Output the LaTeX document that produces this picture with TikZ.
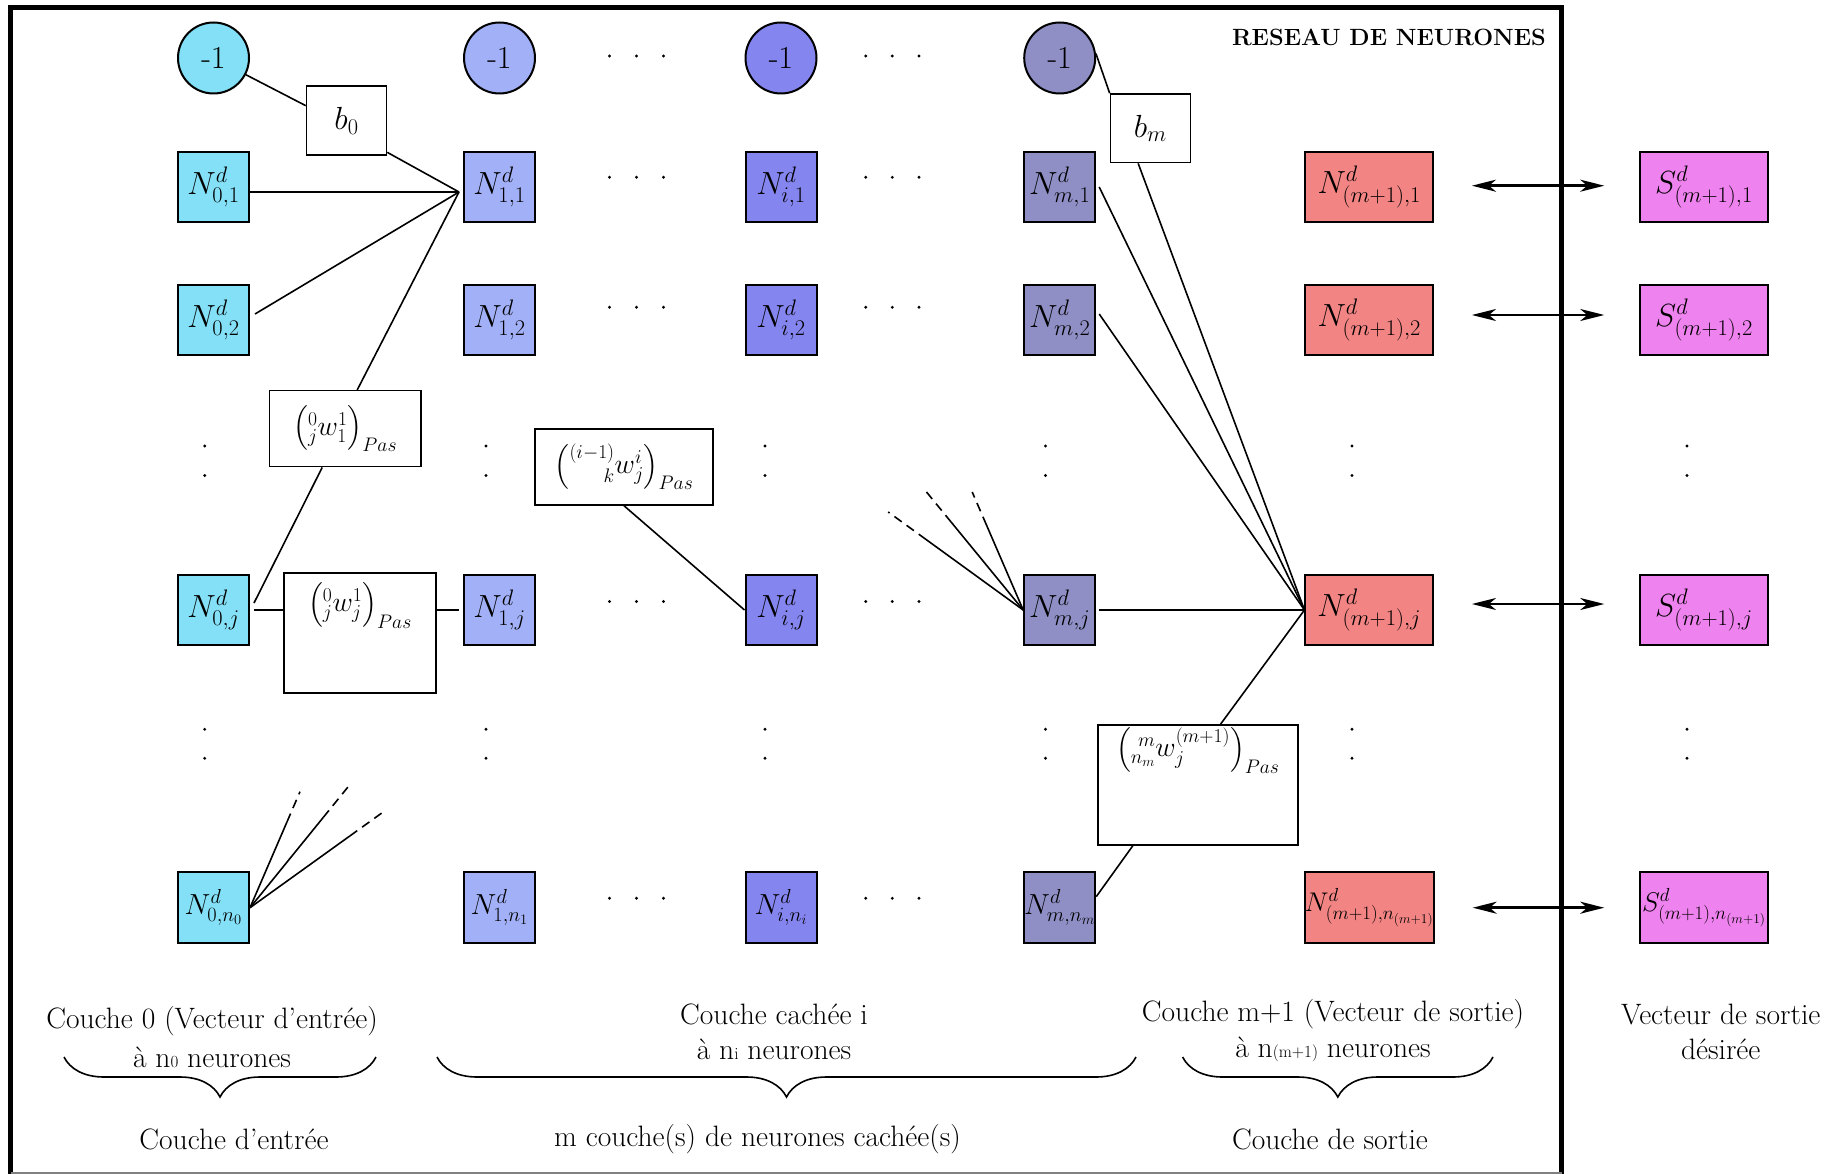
\RequirePackage{fix-cm}
\documentclass[tikz,border=0pt]{standalone}
\usepackage{amsmath}
\usetikzlibrary{arrows.meta,calc,decorations.pathreplacing}
\definecolor{cyanN}{RGB}{132,224,246}
\definecolor{blueA}{RGB}{162,177,247}
\definecolor{blueI}{RGB}{133,133,240}
\definecolor{blueM}{RGB}{143,143,198}
\definecolor{redO}{RGB}{242,132,132}
\definecolor{magS}{RGB}{238,130,238}
\newcommand{\nsz}{\fontsize{32}{34}\selectfont}
\newcommand{\nszs}{\fontsize{29}{31}\selectfont}
\newcommand{\lsz}{\fontsize{29.5}{32}\selectfont}
\newcommand{\wsz}{\fontsize{28}{31}\selectfont}
\newcommand{\tinysub}[1]{{\fontsize{17}{17}\selectfont #1}}
\begin{document}
\begin{tikzpicture}[x=1pt,y=-1pt,
  nbox/.style={draw, line width=2pt, minimum width=71pt, minimum height=70.5pt, inner sep=0pt, font=\nsz},
  obox/.style={nbox, minimum width=127.5pt},
  bias/.style={circle, draw, line width=2pt, minimum size=71pt, inner sep=0pt, font=\nsz},
  wbox/.style={draw, line width=1.5pt, inner sep=0pt, fill=white, font=\wsz},
  bbox/.style={wbox, font=\fontsize{32}{34}\selectfont},
  wlab/.style={font=\wsz, anchor=north, inner sep=0pt},
  conn/.style={line width=1.6pt},
  dsh/.style={line width=1.6pt, dash pattern=on 9pt off 6pt},
  dblarr/.style={line width=2.5pt, {Stealth[length=24pt,width=12pt,inset=7pt]}-{Stealth[length=24pt,width=12pt,inset=7pt]}},
  lbl/.style={font=\lsz, inner sep=0pt, align=center},
  brc/.style={decorate, decoration={brace, amplitude=40pt}, line width=1.6pt}
]
\useasboundingbox (0,0) rectangle (1836,1174);

% frame
\draw[line width=5pt] (10.8,1174) -- (10.8,7.5) -- (1561.7,7.5) -- (1561.7,1174);
\draw[gray, line width=1.5pt] (10.8,1173) -- (1561.7,1173);
\node[font=\fontsize{23.5}{26}\selectfont\bfseries, anchor=east, inner sep=0pt] (title) at (1546,37) {RESEAU DE NEURONES};

% bias circles
\node[bias, fill=cyanN] (B0) at (213.5,58) {-1};
\node[bias, fill=blueA] (B1) at (499.5,58) {-1};
\node[bias, fill=blueI] (Bi) at (781,58) {-1};
\node[bias, fill=blueM] (Bm) at (1059.7,58) {-1};

% layer 0
\node[nbox, fill=cyanN] (N01) at (213.5,187) {$N^{d}_{0,1}$};
\node[nbox, fill=cyanN] (N02) at (213.5,320) {$N^{d}_{0,2}$};
\node[nbox, fill=cyanN] (N0j) at (213.5,610) {$N^{d}_{0,j}$};
\node[nbox, fill=cyanN, font=\nszs] (N0n) at (213.5,907.7) {$N^{d}_{0,n_0}$};
% layer 1
\node[nbox, fill=blueA] (N11) at (499.5,187) {$N^{d}_{1,1}$};
\node[nbox, fill=blueA] (N12) at (499.5,320) {$N^{d}_{1,2}$};
\node[nbox, fill=blueA] (N1j) at (499.5,610) {$N^{d}_{1,j}$};
\node[nbox, fill=blueA, font=\nszs] (N1n) at (499.5,907.7) {$N^{d}_{1,n_1}$};
% layer i
\node[nbox, fill=blueI] (Ni1) at (781,187) {$N^{d}_{i,1}$};
\node[nbox, fill=blueI] (Ni2) at (781,320) {$N^{d}_{i,2}$};
\node[nbox, fill=blueI] (Nij) at (781,610) {$N^{d}_{i,j}$};
\node[nbox, fill=blueI, font=\nszs] (Nin) at (781,907.7) {$N^{d}_{i,n_i}$};
% layer m
\node[nbox, fill=blueM] (Nm1) at (1059.7,187) {$N^{d}_{m,1}$};
\node[nbox, fill=blueM] (Nm2) at (1059.7,320) {$N^{d}_{m,2}$};
\node[nbox, fill=blueM] (Nmj) at (1059.7,610) {$N^{d}_{m,j}$};
\node[nbox, fill=blueM, font=\nszs] (Nmn) at (1059.7,907.7) {$N^{d}_{m,n_m}$};
% output layer
\node[obox, fill=redO] (No1) at (1369.2,187) {$N^{d}_{(m+1),1}$};
\node[obox, fill=redO] (No2) at (1369.2,320) {$N^{d}_{(m+1),2}$};
\node[obox, fill=redO] (Noj) at (1369.2,610) {$N^{d}_{(m+1),j}$};
\node[obox, fill=redO, font=\fontsize{27}{29}\selectfont] (Non) at (1369.2,907.7) {$N^{d}_{(m+1),n_{(m+1)}}$};
% desired output
\node[obox, fill=magS] (S1) at (1704,187) {$S^{d}_{(m+1),1}$};
\node[obox, fill=magS] (S2) at (1704,320) {$S^{d}_{(m+1),2}$};
\node[obox, fill=magS] (Sj) at (1704,610) {$S^{d}_{(m+1),j}$};
\node[obox, fill=magS, font=\fontsize{27}{29}\selectfont] (Sn) at (1704,907.7) {$S^{d}_{(m+1),n_{(m+1)}}$};

% weight boxes
\node[bbox, minimum width=80pt, minimum height=69pt] (b0) at (346.5,120.5) {$b_0$};
\node[bbox, minimum width=80pt, minimum height=68.7pt] (bm) at (1150.4,128.3) {$b_m$};
\node[wbox, minimum width=151.6pt, minimum height=76pt] (w1) at (345.2,428.7) {$\left({}^{0}_{j}w^{1}_{1}\right)_{Pas}$};
\node[wbox, minimum width=178pt, minimum height=76pt] (w2) at (624,467) {$\left({}^{(i-1)}_{\phantom{(i-1)}\llap{$\scriptstyle k$}}w^{i}_{j}\right)_{Pas}$};
\node[wbox, minimum width=152pt, minimum height=120pt,
  label={[wlab, yshift=-10pt]north:{$\left({}^{0}_{j}w^{1}_{j}\right)_{Pas}$}}] (w3) at (360,633) {};
\node[wbox, minimum width=200pt, minimum height=120pt,
  label={[wlab, yshift=-3pt]north:{$\left({}^{\phantom{n_m}\llap{$\scriptstyle m$}}_{n_m}w^{(m+1)}_{j}\right)_{Pas}$}}] (w4) at (1197.8,785) {};

% connectors, first layer
\coordinate (p11) at ($(N11.west)+(-4,5)$);
\draw[conn] (B0) -- (b0.160);
\draw[conn] (b0.-38) -- (p11);
\draw[conn] (N01.east |- p11) -- (p11);
\draw[conn] ($(N02.east)+(5,-6)$) -- (p11);
\draw[conn] (p11) -- ($(w1.north)+(12,0)$);
\draw[conn] ($(w1.south)+(-23,0)$) -- ($(N0j.east)+(4,-7)$);
\draw[conn] ($(N0j.east)+(4,0)$) -- (w3.west |- N0j);
\draw[conn] (w3.east |- N1j) -- ($(N1j.west)+(-4,0)$);
\draw[conn] (w2.south) -- (Nij.west);

% fan at N0n
\foreach \dx/\dy [count=\k] in {50/-116, 99/-122, 135/-97} {
  \coordinate (fa\k) at ($(N0n.east)+(\dx,\dy)$);
  \draw[conn] (N0n.east) -- ($(N0n.east)!0.74!(fa\k)$);
  \draw[dsh] ($(N0n.east)!0.74!(fa\k)$) -- (fa\k);
}
% fan at Nmj
\foreach \dx/\dy [count=\k] in {-135/-98, -100/-122, -51/-118} {
  \coordinate (fb\k) at ($(Nmj.west)+(\dx,\dy)$);
  \draw[conn] (Nmj.west) -- ($(Nmj.west)!0.72!(fb\k)$);
  \draw[dsh] ($(Nmj.west)!0.72!(fb\k)$) -- (fb\k);
}

% connectors, output layer
\coordinate (pj) at (Noj.west);
\draw[conn] (Bm.7) -- (bm.north west);
\draw[conn] ($(bm.south west)!0.35!(bm.south east)$) -- (pj);
\draw[conn] ($(Nm1.east)+(3,0)$) -- (pj);
\draw[conn] ($(Nm2.east)+(3,-6)$) -- (pj);
\draw[conn] ($(Nmj.east)+(3,0)$) -- (pj);
\draw[conn] (pj) -- ($(w4.north)+(22.7,0)$);
\draw[conn] ($(w4.south)+(-65,0)$) -- ($(Nmn.east)+(0,-11)$);

% double arrows
\draw[dblarr] ([xshift=38pt,yshift=1.3pt]No1.east) -- ([xshift=-35pt,yshift=1.3pt]S1.west);
\draw[dblarr] ([xshift=38pt,yshift=5pt]No2.east) -- ([xshift=-35pt,yshift=5pt]S2.west);
\draw[dblarr] ([xshift=38pt,yshift=6pt]Noj.east) -- ([xshift=-35pt,yshift=6pt]Sj.west);
\draw[dblarr] ([xshift=38pt]Non.east) -- ([xshift=-35pt]Sn.west);

% ellipsis dots
\foreach \x in {609.5,636.5,663.5,865.7,892.3,919}
  \foreach \y in {56,177.3,307.3,601.5,898.3}
    \fill (\x,\y) circle (1.6pt);
\foreach \x in {204.7,486,765,1045.5,1352,1687}
  \foreach \y in {446,475.5,729.3,758.3}
    \fill (\x,\y) circle (1.6pt);

% labels
\node[lbl] (L0a) at (212,1021) {Couche 0 (Vecteur d’entrée)};
\node[lbl] (L0b) at (212,1057) {à n\tinysub{0} neurones};
\node[lbl] (Lia) at (774,1014) {Couche cachée i};
\node[lbl] (Lib) at (774,1049) {à n\tinysub{i} neurones};
\node[lbl] (Loa) at (1333,1014) {Couche m+1 (Vecteur de sortie)};
\node[lbl] (Lob) at (1333,1049) {à n\tinysub{(m+1)} neurones};
\node[lbl] (Lsa) at (1720.7,1014) {Vecteur de sortie};
\node[lbl] (Lsb) at (1720.7,1049) {désirée};
\node[lbl] (La) at (234,1139.5) {Couche d’entrée};
\node[lbl] (Lb) at (757.5,1139.5) {m couche(s) de neurones cachée(s)};
\node[lbl] (Lc) at (1330,1139.5) {Couche de sortie};

% braces
\draw[brc] (376,1057) -- (64,1057);
\draw[brc] (1136,1057) -- (437,1057);
\draw[brc] (1493,1057) -- (1182.6,1057);
\end{tikzpicture}
\end{document}
